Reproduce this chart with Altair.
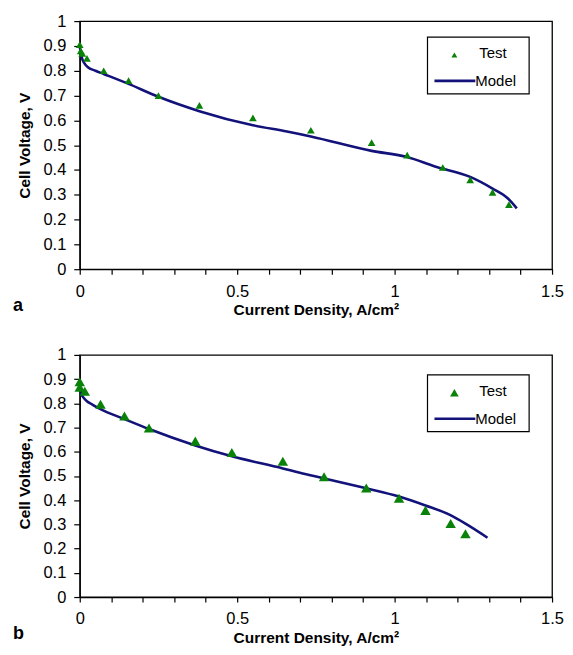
import altair as alt
import pandas as pd

# ---------------- data ----------------
x_tick_values = [0.0, 0.1, 0.2, 0.3, 0.4, 0.5, 0.6, 0.7, 0.8, 0.9, 1.0,
                 1.1, 1.2, 1.3, 1.4, 1.5]
y_tick_values = [0.0, 0.1, 0.2, 0.3, 0.4, 0.5, 0.6, 0.7, 0.8, 0.9, 1.0]

test_a_x = [0.0, 0.003, 0.008, 0.023, 0.076, 0.155, 0.25, 0.38, 0.55, 0.734,
            0.927, 1.04, 1.153, 1.24, 1.311, 1.363]
test_a_y = [0.905, 0.88, 0.87, 0.85, 0.80, 0.76, 0.70, 0.66, 0.61, 0.56,
            0.51, 0.46, 0.41, 0.36, 0.31, 0.26]
model_a_x = [0.0, 0.005, 0.015, 0.025, 0.05, 0.076, 0.155, 0.25, 0.38, 0.55,
             0.658, 0.734, 0.927, 1.04, 1.128, 1.24, 1.311, 1.36, 1.388]
model_a_y = [0.90, 0.86, 0.83, 0.815, 0.80, 0.787, 0.747, 0.695, 0.637, 0.58,
             0.555, 0.535, 0.477, 0.452, 0.414, 0.372, 0.325, 0.285, 0.245]

test_b_x = [0.0, 0.0, 0.016, 0.066, 0.142, 0.22, 0.367, 0.483, 0.645, 0.776,
            0.91, 1.014, 1.098, 1.178, 1.225]
test_b_y = [0.889, 0.867, 0.85, 0.796, 0.748, 0.698, 0.644, 0.597, 0.561,
            0.497, 0.45, 0.408, 0.358, 0.304, 0.261]
model_b_x = [0.0, 0.005, 0.017, 0.04, 0.066, 0.142, 0.22, 0.367, 0.483, 0.645,
             0.699, 0.776, 0.91, 1.014, 1.098, 1.174, 1.225, 1.295]
model_b_y = [0.87, 0.84, 0.816, 0.795, 0.776, 0.735, 0.694, 0.626, 0.581,
             0.531, 0.513, 0.49, 0.449, 0.415, 0.378, 0.34, 0.303, 0.245]

legend_labels = ["Test", "Model"]
panel_labels = ["a", "b"]
x_title = "Current Density, A/cm²"
y_title = "Cell Voltage, V"

GREEN = "#0a820a"
NAVY = "#12127a"
FONT = "Liberation Sans"
W = 474


def encodings():
    x_enc = alt.X(
        "x:Q",
        scale=alt.Scale(domain=[0, 1.5], nice=False, zero=False),
        axis=alt.Axis(
            values=x_tick_values,
            format=".1~f",
            labelExpr="round(datum.value*10) % 5 == 0 ? datum.label : ''",
            labelOverlap=False,
            labelFlush=False,
            title=x_title,
        ),
    )
    y_enc = alt.Y(
        "y:Q",
        scale=alt.Scale(domain=[0, 1], nice=False),
        axis=alt.Axis(values=y_tick_values, format=".1~f",
                      labelOverlap=False, labelFlush=False, title=y_title),
    )
    return x_enc, y_enc


def panel(tx, ty, mx, my, height, letter, tri, leg_tri, leg_top):
    df_t = pd.DataFrame({"x": tx, "y": ty})
    df_m = pd.DataFrame({"x": mx, "y": my})
    one = pd.DataFrame({"k": [0]})

    xe, ye = encodings()
    line = alt.Chart(df_m).mark_line(
        color=NAVY, strokeWidth=2.6, interpolate="monotone"
    ).encode(x=xe, y=ye)

    xe2, ye2 = encodings()
    pts = alt.Chart(df_t).mark_point(
        shape="triangle-up", filled=True, color=GREEN, size=tri, opacity=1
    ).encode(x=xe2, y=ye2)

    box = alt.Chart(one).mark_rect(
        fill="white", stroke="black", strokeWidth=1.2
    ).encode(
        x=alt.value(349), x2=alt.value(451),
        y=alt.value(leg_top), y2=alt.value(leg_top + 57),
    )
    leg_pt = alt.Chart(one).mark_point(
        shape="triangle-up", filled=True, color=GREEN, size=leg_tri, opacity=1
    ).encode(x=alt.value(376), y=alt.value(leg_top + 18))
    leg_line = alt.Chart(one).mark_rule(color=NAVY, strokeWidth=2.6).encode(
        x=alt.value(356), x2=alt.value(397),
        y=alt.value(leg_top + 44),
    )
    leg_txt_t = alt.Chart(pd.DataFrame({"t": [legend_labels[0]]})).mark_text(
        align="left", baseline="middle", font=FONT, fontSize=15, color="black"
    ).encode(x=alt.value(401), y=alt.value(leg_top + 16), text="t:N")
    leg_txt_m = alt.Chart(pd.DataFrame({"t": [legend_labels[1]]})).mark_text(
        align="left", baseline="middle", font=FONT, fontSize=15, color="black"
    ).encode(x=alt.value(397), y=alt.value(leg_top + 44), text="t:N")

    let = alt.Chart(pd.DataFrame({"t": [letter]})).mark_text(
        align="left", baseline="bottom", font=FONT, fontSize=18,
        fontWeight="bold", color="black"
    ).encode(x=alt.value(-67), y=alt.value(height + 46), text="t:N")

    return alt.layer(
        line, pts, box, leg_line, leg_pt, leg_txt_t, leg_txt_m, let
    ).properties(width=W, height=height)


pa = panel(test_a_x, test_a_y, model_a_x, model_a_y, 249, panel_labels[0],
           60, 35, 16)
pb = panel(test_b_x, test_b_y, model_b_x, model_b_y, 243, panel_labels[1],
           110, 75, 20)

chart = alt.vconcat(pa, pb, spacing=27).properties(
    padding={"left": 4, "top": 3, "right": 0, "bottom": 0}
).configure_view(
    stroke="black", strokeWidth=1.3
).configure_axis(
    grid=False,
    domainColor="black",
    domainWidth=1.3,
    tickColor="black",
    tickWidth=1.2,
    tickSize=5,
    labelColor="black",
    labelFont=FONT,
    labelFontSize=16.5,
    titleColor="black",
    titleFont=FONT,
    titleFontSize=15.5,
    titleFontWeight="bold",
).configure_axisX(
    labelPadding=9, titlePadding=3
).configure_axisY(
    tickSize=6, labelPadding=8, titlePadding=10
)

chart.save("out.html", embed_options={"renderer": "svg", "actions": False})
